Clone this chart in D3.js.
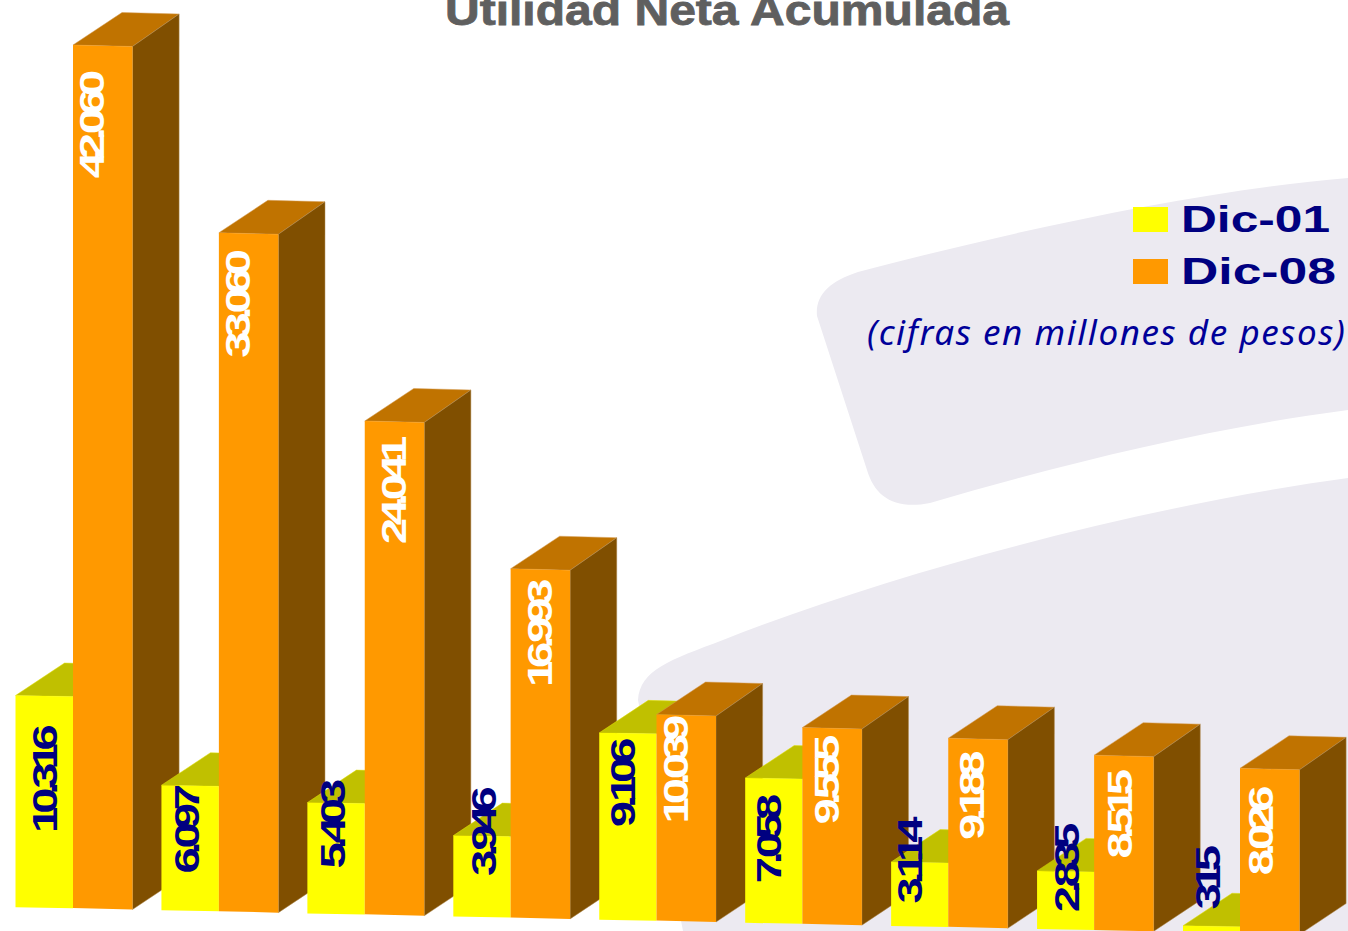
<!DOCTYPE html>
<html><head><meta charset="utf-8">
<script src="https://cdn.jsdelivr.net/npm/d3@7/dist/d3.min.js"></script>
<style>html,body{margin:0;padding:0;background:#fff;overflow:hidden}svg{display:block}</style>
</head><body><svg id="c" width="1348" height="931"></svg>
<script>
const categories = ["1","2","3","4","5","6","7","8","9"];
const dic01 = [10316,6097,5403,3946,9106,7058,3114,2835,315];
const dic08 = [42060,33060,24041,16993,10039,9555,9188,8515,8026];
const seriesNames = ["Dic-01","Dic-08"];
const labels01 = ["10.316","6.097","5.403","3.946","9.106","7.058","3.114","2.835","315"];
const labels08 = ["42.060","33.060","24.041","16.993","10.039","9.555","9.188","8.515","8.026"];

// label placement relative to each bar
const nudge01X = [29,25,25,30,24,24,19,30,25];
const nudge01Y = [83,43.5,21,-4.5,49.5,60.5,-2,-3.5,-48.5];
const nudge08X = [19,19,29,29,19,24,24,26,21];
const nudge08Y = [79,70.5,69,64,54.5,52,57,58.5,62];

const svg = d3.select("#c");
const x = d3.scaleLinear().domain([0,8]).range([73,1240]);
const xY = d3.scaleLinear().domain([0,8]).range([15.5,1183]);
const base = d3.scaleLinear().domain([0,8]).range([908,933]);
const h = d3.scaleLinear().domain([0,42060]).range([0,863]);
const OW = 59.5, TILT = 1.5;
const BL = [49,-32.5], BR = [46.6,-31];
const pts = a => a.map(p=>p.join(",")).join(" ");

// background swooshes
const bg = svg.append("g").attr("fill","#ECEAF1");
bg.append("path").attr("d","M1348,178 C1200,190 1010,232 858,272 C830,281 815,295 817,316 L867,470 C875,497 895,510 930,503 C1070,462 1210,428 1348,410 Z");
bg.append("path").attr("d","M1348,478 C1150,505 900,570 723,640 C670,660 640,670 638,700 L683,931 L1348,931 Z");

// title
svg.append("text").attr("x",445).attr("y",25).attr("textLength",564).attr("lengthAdjust","spacingAndGlyphs")
  .attr("font-family","'Liberation Sans',Arial,sans-serif").attr("font-weight","bold").attr("font-size",42)
  .attr("fill","#5F5F5F").attr("stroke","#5F5F5F").attr("stroke-width",0.8).text("Utilidad Neta Acumulada");

// bars
const barsG = svg.append("g");
categories.forEach((c,i)=>{
  const g = barsG.append("g");
  const ox = x(i), oyb = base(i);
  // Dic-01
  const yx = xY(i), yb = oyb-0.8, yt = yb-h(dic01[i]);
  g.append("polygon").attr("points",pts([[yx,yt],[yx+BL[0],yt+BL[1]],[ox+BR[0],yt+BR[1]],[ox,yt+1]]))
    .attr("fill","#C0C000").attr("stroke","#E0E000").attr("stroke-width",0.5);
  g.append("polygon").attr("points",pts([[yx,yt],[ox,yt+1],[ox,yb+1],[yx,yb]])).attr("fill","#FFFF00");
  // Dic-08
  const ot = oyb-h(dic08[i]), rx = ox+OW;
  g.append("polygon").attr("points",pts([[ox,ot],[ox+BL[0],ot+BL[1]],[rx+BR[0],ot+BR[1]],[rx,ot+TILT]]))
    .attr("fill","#C07300").attr("stroke","#D49A50").attr("stroke-width",0.5);
  g.append("polygon").attr("points",pts([[rx,ot+TILT],[rx+BR[0],ot+BR[1]],[rx+BR[0],oyb+TILT+BR[1]],[rx,oyb+TILT]]))
    .attr("fill","#804F00").attr("stroke","#B08A50").attr("stroke-width",0.5);
  g.append("polygon").attr("points",pts([[ox,ot],[rx,ot+TILT],[rx,oyb+TILT],[ox,oyb]])).attr("fill","#FF9900");
});

// value labels
function lab(px,py,t,fill){
  svg.append("text").attr("transform",`translate(${px},${py+3.6}) rotate(-90) scale(1.35,1)`)
    .attr("text-anchor","middle").attr("dominant-baseline","central")
    .attr("font-family","'Liberation Sans',Arial,sans-serif").attr("font-weight","bold")
    .attr("font-size",35).attr("letter-spacing",-5.3).attr("fill",fill).text(t);
}
categories.forEach((c,i)=>{
  const ox = x(i), oyb = base(i);
  lab(xY(i)+nudge01X[i], oyb-0.8-h(dic01[i])+nudge01Y[i], labels01[i], "#000080");
  lab(ox+nudge08X[i], oyb-h(dic08[i])+nudge08Y[i], labels08[i], "#FFFFFF");
});

// legend
const legColors = ["#FFFF00","#FF9900"], legLen = [149,155];
seriesNames.forEach((n,i)=>{
  const yy = 207+52*i;
  svg.append("rect").attr("x",1133).attr("y",yy).attr("width",35).attr("height",25).attr("fill",legColors[i]);
  svg.append("text").attr("x",1181).attr("y",yy+24.5).attr("textLength",legLen[i]).attr("lengthAdjust","spacingAndGlyphs")
    .attr("font-family","'Liberation Sans',Arial,sans-serif").attr("font-weight","bold").attr("font-size",37)
    .attr("fill","#000080").text(n);
});
svg.append("text").attr("x",867).attr("y",345).attr("textLength",478).attr("lengthAdjust","spacing")
  .attr("font-family","'Noto Sans','Open Sans',sans-serif").attr("font-style","italic").attr("font-size",35)
  .attr("fill","#000099").text("(cifras en millones de pesos)");
</script></body></html>
